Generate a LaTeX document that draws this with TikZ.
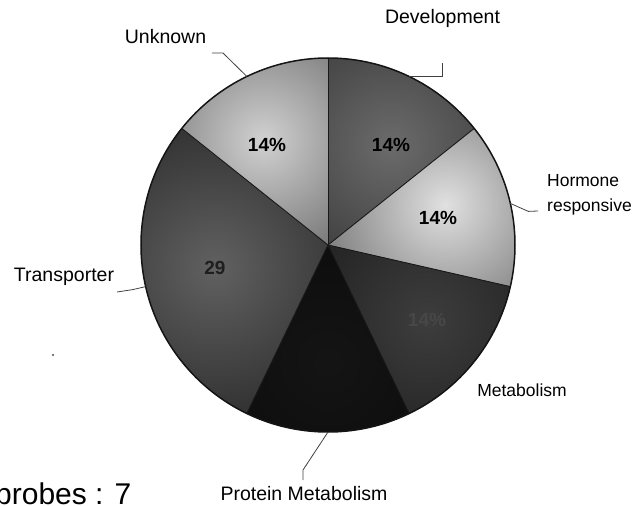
\documentclass[tikz,border=0pt]{standalone}
\usepackage{fontspec}
\setmainfont{Liberation Sans}
\begin{document}
\begin{tikzpicture}[
        x=1pt, y=1pt,
        lbl/.style={font=\fontsize{19.5}{22}\selectfont, inner sep=0pt},
        lblsmall/.style={font=\fontsize{17.5}{25}\selectfont, inner sep=0pt, align=left},
        pct/.style={font=\bfseries\fontsize{19}{22}\selectfont, inner sep=0pt},
        leader/.style={draw=black!75, line width=0.8pt},
        divider/.style={draw=black!90, line width=0.9pt},
    ]
    \useasboundingbox (-328,-261) rectangle (307,245);

    % sectors: start, end, light spot, inner and outer colour
    \foreach \a/\b/\sx/\sy/\ci/\co in {
        90/38.57/63/100/black!58/black!92,
        38.57/-12.86/117/40/black!12/black!88,
        -12.86/-64.29/99/-75/black!76/black!96,
        -64.29/-115.71/0/-117/black!92/black!98,
        -115.71/-218.57/-113/-23/black!62/black!93,
        141.43/90/-65/105/black!18/black!88}
    {
        \begin{scope}
            \clip (0,0) -- (\a:187) arc[start angle=\a, end angle=\b, radius=187] -- cycle;
            \fill[\co] (-200,-200) rectangle (200,200);
            \shade[inner color=\ci, outer color=\co] (\sx,\sy) circle (250);
        \end{scope}
    }
    \foreach \a in {90, 38.57, -12.86, -64.29, -115.71, 141.43}
        \draw[divider] (0,0) -- (\a:187);
    \draw[black!92, line width=1.5pt] (0,0) circle (187);

    % percentages
    \node[pct] (p-unknown) at (-61,100) {14\%};
    \node[pct] (p-devel) at (63,100) {14\%};
    \node[pct] (p-hormone) at (110,27) {14\%};
    \node[pct, text=black!72] (p-metab) at (99,-75) {14\%};
    \node[pct, text=black!88] (p-transp) at (-113,-23) {29};

    % category labels
    \node[lbl] (unknown) at (-162.5,208) {Unknown};
    \node[lbl] (devel) at (114.5,227) {Development};
    \node[lblsmall, anchor=west] (hormone) at (219,50.5) {Hormone\\responsive};
    \node[lbl] (transp) at (-264,-32) {Transporter};
    \node[lblsmall] (metab) at (194,-145) {Metabolism};
    \node[lbl] (protein) at (-24,-249) {Protein Metabolism};
    \node[font=\fontsize{30}{34}\selectfont, inner sep=0pt, anchor=base west] (probes) at (-333,-259) {probes : 7};

    % leader lines
    \coordinate (e-unknown) at (115.7:187);
    \coordinate (e-devel) at (64.3:187);
    \coordinate (e-hormone) at (12.86:187);
    \coordinate (e-protein) at (-90:187);
    \coordinate (e-transp) at (-167.14:187);
    \coordinate (t-unknown) at (-116,192);
    \coordinate (t-devel) at (114,182);
    \coordinate (t-hormone) at (210,34);
    \coordinate (t-protein) at (-25,-235);
    \coordinate (t-transp) at (-211,-47);
    \draw[leader] (t-unknown) -- ++(11,0) -- (e-unknown);
    \draw[leader] (e-devel) -- (t-devel |- e-devel) -- (t-devel);
    \draw[leader] (e-hormone) -- ++(18,-8) -- (t-hormone);
    \draw[leader] (e-protein) -- ++(-25,-38) -- (t-protein);
    \draw[leader] (e-transp) -- ++(-13,-3) -- (t-transp);

    \fill[black!70] (-275,-110) circle (1.2);
\end{tikzpicture}
\end{document}
